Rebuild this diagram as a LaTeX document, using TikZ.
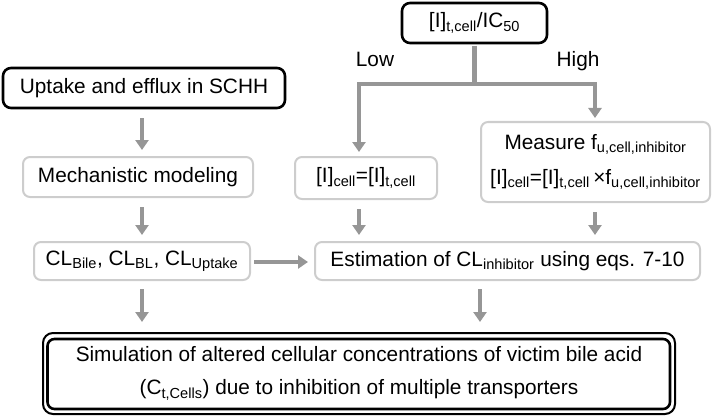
\documentclass[tikz,border=0pt]{standalone}
\usepackage{fontspec}
\setmainfont{Liberation Sans}
\usetikzlibrary{arrows.meta}
\definecolor{flowgray}{RGB}{150,150,150}
\definecolor{boxgray}{RGB}{205,205,205}
\newcommand{\sbs}[1]{\textsubscript{#1}}
\begin{document}
\begin{tikzpicture}[x=1pt,y=-1pt,line join=round,font=\fontsize{20.8}{25}\selectfont,
    darkbox/.style={draw=black,fill=white,line width=2.6pt,rounded corners=8pt,inner sep=0pt,align=center},
    lightbox/.style={draw=boxgray,fill=white,line width=2pt,rounded corners=7pt,inner sep=0pt,align=center},
    flow/.style={draw=flowgray,line width=4.5pt,-{Triangle[length=10pt,width=13pt]},shorten <=9pt,shorten >=6pt}]
            \useasboundingbox (0,0) rectangle (714,417);
            % columns of the arrows
            \coordinate (colA) at (142,0);
            \coordinate (colB) at (359,0);
            \coordinate (colC) at (595,0);
            \coordinate (colD) at (480,0);
            \coordinate (fork) at (474.5,84);
            % boxes
            \node[darkbox,minimum width=145pt,minimum height=40pt] (ratio) at (474.5,23) {[I]\sbs{t,cell}/IC\sbs{50}};
            \node[darkbox,minimum width=282pt,minimum height=40pt] (uptake) at (144,88) {Uptake and efflux in SCHH};
            \node[lightbox,minimum width=230pt,minimum height=40pt] (mech) at (138,177) {Mechanistic modeling};
            \node[lightbox,minimum width=142pt,minimum height=42pt] (icell) at (366,178) {[I]\sbs{cell}=[I]\sbs{t,cell}};
            \node[lightbox,minimum width=229pt,minimum height=80pt] (measure) at (595.5,162)
                {Measure f\sbs{u,cell,inhibitor}\\[10pt][I]\sbs{cell}=[I]\sbs{t,cell}\,×f\sbs{u,cell,inhibitor}};
            \node[lightbox,minimum width=216pt,minimum height=38pt] (cl) at (142,261) {CL\sbs{Bile}, CL\sbs{BL}, CL\sbs{Uptake}};
            \node[lightbox,minimum width=385pt,minimum height=38pt] (est) at (507.5,261) {Estimation of CL\sbs{inhibitor} using eqs. 7-10};
            \node[draw=black,fill=white,line width=2pt,rounded corners=10pt,inner sep=0pt,align=center,
                minimum width=632pt,minimum height=81pt] (final) at (359,373.5)
                {Simulation of altered cellular concentrations of victim bile acid\\[8pt](C\sbs{t,Cells}) due to inhibition of multiple transporters};
            \draw[line width=2.6pt,rounded corners=7pt] ([shift={(5.5pt,-7pt)}]final.north west) rectangle ([shift={(-6pt,6pt)}]final.south east);
            % labels of the branches
            \node[anchor=base] (low) at (375,67) {Low};
            \node[anchor=base] (high) at (578,67) {High};
            % connectors
            \draw[flowgray,line width=4.5pt,shorten <=1.3pt] (ratio.south) -- (fork);
            \draw[flow,line join=miter,shorten <=0pt,shorten >=4pt] (fork) -| (icell.north -| colB);
            \draw[flow,line join=miter,shorten <=0pt,shorten >=3pt] (fork) -| (measure.north -| colC);
            \draw[flow] (uptake.south -| colA) -- (mech.north -| colA);
            \draw[flow] (mech.south -| colA) -- (cl.north -| colA);
            \draw[flow] (icell.south -| colB) -- (est.north -| colB);
            \draw[flow] (measure.south -| colC) -- (est.north -| colC);
            \draw[flow,shorten <=3pt] (cl.east |- 0,262) -- (est.west |- 0,262);
            \draw[flow,shorten <=8pt,shorten >=10pt] (cl.south -| colA) -- (final.north -| colA);
            \draw[flow,shorten <=8pt,shorten >=10pt] (est.south -| colD) -- (final.north -| colD);
    \end{tikzpicture}
\end{document}
